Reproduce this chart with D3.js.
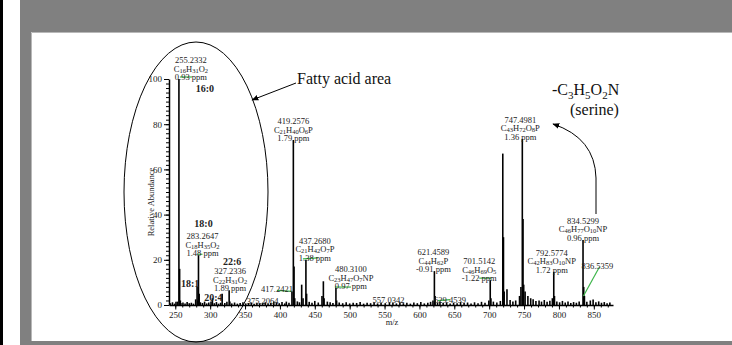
<!DOCTYPE html>
<html>
<head>
<meta charset="utf-8">
<script src="https://cdn.jsdelivr.net/npm/d3@7/dist/d3.min.js"></script>
<style>
body { margin: 0; background: #fff; }
svg { display: block; font-family: "Liberation Serif", "Times New Roman", serif; }
</style>
</head>
<body>
<svg id="chart" width="732" height="345"></svg>
<script>
// Mass spectrum data: [m/z, relative abundance]
var peaks = [
    [253.22, 1.5], [255.23, 100], [256.24, 16], [257.24, 2], [279.23, 2.5],
    [281.25, 8], [282.25, 2], [283.26, 22], [284.27, 5], [301.22, 1.5],
    [303.23, 3], [317.2, 5], [327.23, 6.5], [328.24, 1.5], [375.21, 1],
    [391.2, 1.5], [409.2, 1.5], [417.24, 6], [419.26, 73], [420.26, 17],
    [421.26, 3], [431.2, 9], [433.2, 3], [437.27, 20], [438.27, 5],
    [460.3, 4], [462.3, 10.5], [463.3, 3], [480.31, 7.5], [481.3, 2],
    [557.03, 1.2], [619.4, 2], [621.46, 15], [622.46, 4], [629.45, 1.5],
    [699.5, 2], [701.51, 11], [702.5, 3], [719.49, 67], [720.49, 30],
    [721.5, 6], [725.5, 7], [743.5, 4], [745.5, 8], [747.5, 73.5],
    [748.5, 38], [749.5, 9], [751.5, 6], [755.5, 4], [759.5, 3],
    [771.5, 2], [790.6, 3], [792.58, 14.7], [793.6, 4], [834.53, 28.8],
    [835.53, 8], [836.54, 4], [845, 2]
];
// Small baseline peaks (noise)
var noise = [
    [243, 0.8], [246, 1.2], [249, 0.6], [251, 1.4], [258, 0.9], [261, 1.1], [264, 0.7], [267, 1.3], [270, 0.8], [273, 1.0],
    [276, 0.6], [286, 1.2], [289, 0.9], [292, 1.5], [295, 0.7], [298, 1.1], [306, 0.8], [309, 1.3], [312, 0.6], [315, 1.0],
    [321, 0.9], [324, 1.4], [331, 0.7], [335, 1.1], [339, 0.6], [343, 0.9], [347, 1.2], [351, 0.7], [355, 0.9], [359, 1.1],
    [363, 0.6], [367, 1.0], [371, 0.8], [379, 1.2], [383, 0.7], [387, 0.9], [395, 1.1], [399, 0.8], [403, 1.3], [407, 0.7],
    [413, 1.0], [425, 1.6], [428, 1.2], [442, 1.4], [446, 1.0], [450, 1.8], [455, 1.1], [468, 1.5], [472, 1.2], [476, 0.9],
    [485, 1.1], [490, 0.8], [495, 1.2], [500, 0.7], [505, 1.0], [510, 0.9], [515, 1.3], [520, 0.6], [525, 1.0], [530, 0.8],
    [535, 1.2], [540, 0.7], [545, 1.1], [551, 0.8], [562, 1.0], [567, 0.7], [572, 1.2], [577, 0.8], [582, 1.0], [587, 0.6],
    [592, 1.1], [597, 0.8], [602, 1.3], [607, 0.7], [612, 1.0], [616, 1.4], [626, 1.1], [634, 0.9], [639, 1.2], [644, 0.7],
    [649, 1.0], [654, 0.8], [659, 1.3], [664, 0.9], [669, 1.1], [674, 0.7], [679, 1.2], [684, 0.8], [689, 1.4], [694, 1.0],
    [706, 1.5], [711, 1.1], [716, 1.8], [730, 2.2], [734, 1.6], [738, 2.0], [763, 2.5], [767, 1.8], [775, 1.5], [779, 2.2],
    [783, 1.4], [787, 1.9], [797, 1.6], [801, 1.2], [805, 1.8], [809, 1.1], [813, 1.5], [817, 0.9], [821, 1.3], [825, 1.0],
    [829, 1.6], [840, 1.4], [849, 2.4], [853, 1.2], [857, 1.6], [861, 1.0], [865, 1.3], [869, 0.8], [873, 1.1]
];

var xTicks = [250, 300, 350, 400, 450, 500, 550, 600, 650, 700, 750, 800, 850];
var yTicks = [0, 20, 40, 60, 80, 100];

// Labelled peaks: m/z, intensity, three text lines
var annMz = [255.2332, 419.2576, 283.2647, 327.2336, 437.2680, 480.3100, 621.4589, 701.5142, 747.4981, 792.5774, 834.5299];
var annInt = [100, 73, 22, 6.5, 20, 7.5, 15, 11, 73.5, 14.7, 28.8];
var annMass = ["255.2332", "419.2576", "283.2647", "327.2336", "437.2680", "480.3100", "621.4589", "701.5142", "747.4981", "792.5774", "834.5299"];
var annFormula = ["C16H31O2", "C21H40O6P", "C18H35O2", "C22H31O2", "C21H42O7P", "C23H47O7NP", "C44H62P", "C46H69O5", "C43H72O8P", "C42H83O10NP", "C46H77O10NP"];
var annPpm = ["0.93 ppm", "1.79 ppm", "1.48 ppm", "1.89 ppm", "1.38 ppm", "0.97 ppm", "-0.91 ppm", "-1.22 ppm", "1.36 ppm", "1.72 ppm", "0.96 ppm"];
// horizontal shift of each text block (px)
var annDx = [12, 0, 4, 1, 9, 15, -1, -11, -2, -2, 0];

// Single-line m/z labels near the baseline
var smallMz = [375.2064, 417.2421, 557.0342, 629.4539, 836.5359];
var smallInt = [1, 6, 1.2, 1.5, 4];
var smallDx = [0, -15, -1, 10, 13];

// Fatty-acid names
var faNames = ["16:0", "18:0", "22:6", "18:1", "20:4"];
var faMz = [255.23, 283.26, 327.23, 281.25, 303.23];
var faInt = [100, 22, 6.5, 8, 3];

var svg = d3.select("#chart");

// Frame: black strip, grey border, white page
svg.append("rect").attr("x", 0).attr("y", 0).attr("width", 732).attr("height", 345).attr("fill", "#ffffff");
svg.append("rect").attr("x", 0).attr("y", 0).attr("width", 3).attr("height", 345).attr("fill", "#000000");
svg.append("rect").attr("x", 20).attr("y", 0).attr("width", 712).attr("height", 345).attr("fill", "#808080");
svg.append("rect").attr("x", 31).attr("y", 32).attr("width", 701).attr("height", 309).attr("fill", "#ffffff");
svg.append("path").attr("d", "M31.5,341 V32.5 H732").attr("fill", "none").attr("stroke", "#b8b8b8").attr("stroke-width", 1);

var x = d3.scaleLinear().domain([241, 877.5]).range([169, 613]);
var y = d3.scaleLinear().domain([0, 100]).range([305, 79]);

// Axes
var xMinor = d3.range(250, 880, 10);
var yMinor = d3.range(0, 101, 2);
svg.append("g").attr("transform", "translate(0,305)")
    .call(d3.axisBottom(x).tickValues(xMinor).tickSize(2.5).tickFormat("").tickSizeOuter(0))
    .call(g => g.select(".domain").remove());
svg.append("g").attr("transform", "translate(0,305)")
    .call(d3.axisBottom(x).tickValues(xTicks).tickSize(4.5).tickPadding(2).tickSizeOuter(0))
    .call(g => g.select(".domain").attr("stroke-width", 1.5))
    .call(g => g.selectAll("text").attr("font-size", 9).attr("font-family", "Liberation Serif").attr("fill", "#222"));
svg.append("g").attr("transform", "translate(169,0)")
    .call(d3.axisLeft(y).tickValues(yMinor).tickSize(3).tickFormat("").tickSizeOuter(0))
    .call(g => g.select(".domain").remove());
svg.append("g").attr("transform", "translate(169,0)")
    .call(d3.axisLeft(y).tickValues(yTicks).tickSize(5).tickPadding(2).tickSizeOuter(0))
    .call(g => g.select(".domain").attr("stroke-width", 1.5))
    .call(g => g.selectAll("text").attr("font-size", 9).attr("font-family", "Liberation Serif").attr("fill", "#222"));

svg.append("text").attr("transform", "translate(154,202) rotate(-90)")
    .attr("text-anchor", "middle").attr("font-size", 8.5).attr("fill", "#222")
    .text("Relative Abundance");
svg.append("text").attr("x", 392).attr("y", 325).attr("text-anchor", "middle")
    .attr("font-size", 8.5).attr("fill", "#222").text("m/z");

// Peaks
svg.append("g").selectAll("line").data(noise.concat(peaks)).join("line")
    .attr("x1", d => x(d[0])).attr("x2", d => x(d[0]))
    .attr("y1", y(0)).attr("y2", d => y(d[1]))
    .attr("stroke", "#000").attr("stroke-width", 1.6);

// Green leader lines from peaks to labels
var green = "#3db54a";
var leaders = svg.append("g").attr("stroke", green).attr("stroke-width", 1.2);
function leader (mz, int, dx1, dy1, dx2, dy2) {
    leaders.append("line")
        .attr("x1", x(mz) + dx1).attr("y1", y(int) + dy1)
        .attr("x2", x(mz) + dx2).attr("y2", y(int) + dy2);
}
leader(255.23, 100, 1, -2, 13, -2);
leader(283.26, 22, -1, -1, 4, -1);
leader(417.24, 6, -15, -1, 0, 0);
leader(437.27, 20, -3, -1, 12, -2);
leader(480.31, 7.5, -1, -1, 15, -1);
leader(629.45, 1.5, -2, -1, 10, -2);
leader(701.51, 11, -11, -2, 1, -2);
leader(836.54, 4, -1, 0, 15, -29);

// Formula renderer: element letters normal size, counts as small subscript digits
function formula (sel, str, big, small, shift) {
    var parts = str.match(/[A-Z][a-z]?|\d+/g);
    var lowered = false;
    parts.forEach(function (p) {
        var isNum = /\d/.test(p);
        var t = sel.append("tspan").text(p).attr("font-size", isNum ? small : big);
        if (isNum && !lowered) { t.attr("dy", shift); lowered = true; }
        else if (!isNum && lowered) { t.attr("dy", -shift); lowered = false; }
    });
}

// Three-line peak annotations
var ann = svg.append("g").attr("fill", "#222").attr("text-anchor", "middle");
annMz.forEach(function (mz, i) {
    var cx = x(mz) + annDx[i];
    var base = y(annInt[i]) + 1;
    ann.append("text").attr("x", cx).attr("y", base - 17).attr("font-size", 8.5).text(annMass[i]);
    formula(ann.append("text").attr("x", cx).attr("y", base - 8.5), annFormula[i], 8.5, 6.5, 1);
    ann.append("text").attr("x", cx).attr("y", base).attr("font-size", 8.5).text(annPpm[i]);
});
smallMz.forEach(function (mz, i) {
    ann.append("text").attr("x", x(mz) + smallDx[i]).attr("y", y(smallInt[i]) - (mz > 830 ? 27 : -1))
        .attr("font-size", 8.5).text(mz.toFixed(4));
});

// Fatty-acid names (bold)
var faDx = [26, 5, 3, -7, 1];
var faDy = [13, -28, -25, 0, 3];
faNames.forEach(function (n, i) {
    ann.append("text").attr("x", x(faMz[i]) + faDx[i]).attr("y", y(faInt[i]) + faDy[i])
        .attr("font-size", 10).attr("font-weight", "bold").text(n);
});

// Fatty acid area ellipse and its label
svg.append("ellipse").attr("cx", 196).attr("cy", 192).attr("rx", 72).attr("ry", 150)
    .attr("fill", "none").attr("stroke", "#000").attr("stroke-width", 1);
svg.append("defs").append("marker").attr("id", "arrow")
    .attr("viewBox", "0 0 10 10").attr("refX", 9).attr("refY", 5)
    .attr("markerWidth", 7).attr("markerHeight", 7).attr("orient", "auto-start-reverse")
    .append("path").attr("d", "M0,1 L10,5 L0,9 z").attr("fill", "#000");
svg.append("text").attr("x", 297).attr("y", 84).attr("font-size", 16).attr("fill", "#111").text("Fatty acid area");
svg.append("line").attr("x1", 296).attr("y1", 83).attr("x2", 252).attr("y2", 100)
    .attr("stroke", "#000").attr("stroke-width", 1).attr("marker-end", "url(#arrow)");

// Serine neutral loss
formula(svg.append("text").attr("x", 552).attr("y", 95).attr("fill", "#111").attr("font-size", 16).text("-"), "C3H5O2N", 16, 11, 4);
svg.append("text").attr("x", 570).attr("y", 115).attr("font-size", 16).attr("fill", "#111").text("(serine)");
svg.append("path").attr("d", "M596,214 L596,178 Q595,138 553,124")
    .attr("fill", "none").attr("stroke", "#000").attr("stroke-width", 1).attr("marker-end", "url(#arrow)");
</script>
</body>
</html>
